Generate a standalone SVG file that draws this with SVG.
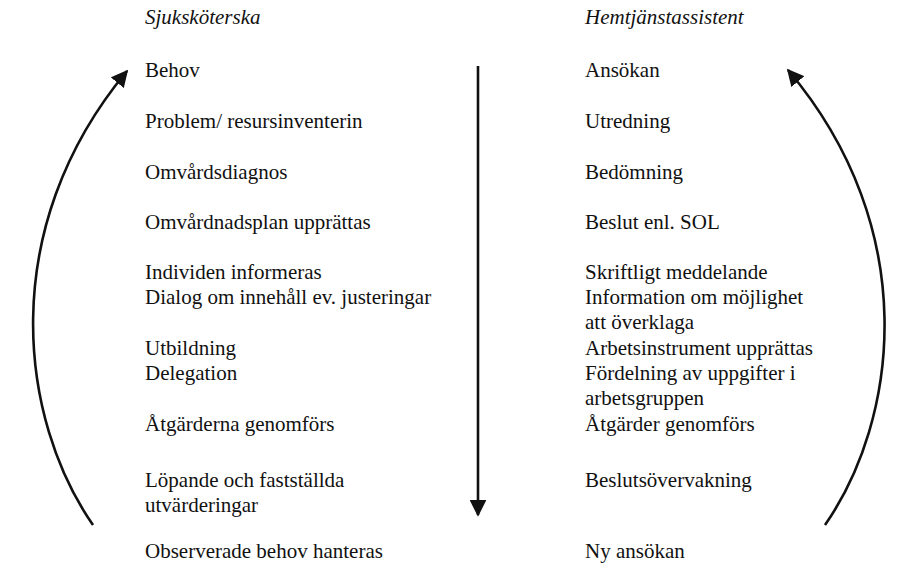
<svg xmlns="http://www.w3.org/2000/svg" width="907" height="568" viewBox="0 0 907 568">
<style>
text{font-family:"Liberation Serif","Times New Roman",serif;font-size:21px;fill:#111}
.h{font-style:italic}
.c{fill:none;stroke:#111;stroke-width:2.6}
</style>
<defs>
<marker id="ah" viewBox="0 0 10 10" refX="9" refY="5" markerWidth="6.5" markerHeight="6.5" markerUnits="strokeWidth" orient="auto">
<path d="M0,0 L10,5 L0,10 z" fill="#111"/>
</marker>
</defs>
<rect width="907" height="568" fill="#fff"/>
<g id="connectors">
<path class="c" d="M93,525 C20,420 -5,230 127,71" marker-end="url(#ah)"/>
<path class="c" d="M825,525 C898,420 923,230 788,70" marker-end="url(#ah)"/>
<path class="c" d="M478,66 L478,515" marker-end="url(#ah)"/>
</g>
<g id="left">
<text class="h" x="145" y="24">Sjuksköterska</text>
<text x="145" y="77">Behov</text>
<text x="145" y="128">Problem/ resursinventerin</text>
<text x="145" y="179">Omvårdsdiagnos</text>
<text x="145" y="229">Omvårdnadsplan upprättas</text>
<text x="145" y="279">Individen informeras</text>
<text x="145" y="304">Dialog om innehåll ev. justeringar</text>
<text x="145" y="355">Utbildning</text>
<text x="145" y="380">Delegation</text>
<text x="145" y="431">Åtgärderna genomförs</text>
<text x="145" y="487">Löpande och fastställda</text>
<text x="145" y="512">utvärderingar</text>
<text x="145" y="558">Observerade behov hanteras</text>
</g>
<g id="right">
<text class="h" x="585" y="24">Hemtjänstassistent</text>
<text x="585" y="77">Ansökan</text>
<text x="585" y="128">Utredning</text>
<text x="585" y="179">Bedömning</text>
<text x="585" y="229">Beslut enl. SOL</text>
<text x="585" y="279">Skriftligt meddelande</text>
<text x="585" y="304">Information om möjlighet</text>
<text x="585" y="329">att överklaga</text>
<text x="585" y="355">Arbetsinstrument upprättas</text>
<text x="585" y="380">Fördelning av uppgifter i</text>
<text x="585" y="405">arbetsgruppen</text>
<text x="585" y="431">Åtgärder genomförs</text>
<text x="585" y="487">Beslutsövervakning</text>
<text x="585" y="558">Ny ansökan</text>
</g>
</svg>
